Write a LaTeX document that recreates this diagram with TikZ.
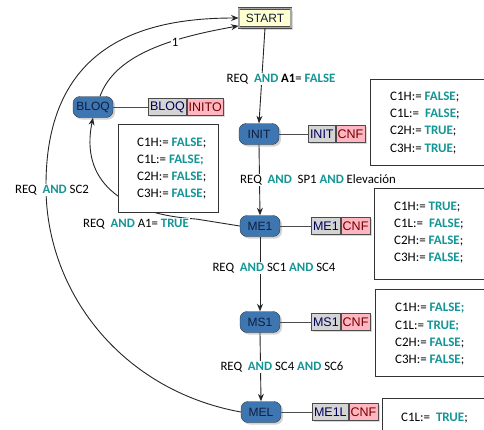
\documentclass[tikz,border=0pt]{standalone}
\usepackage{fontspec}
\setmainfont{Carlito}
\newfontfamily\arialf{Liberation Sans}
\usetikzlibrary{arrows.meta,shadows}
\definecolor{tealk}{RGB}{20,150,150}
\definecolor{nodeblue}{RGB}{62,118,178}
\definecolor{navyt}{RGB}{15,30,60}
\definecolor{cnfpink}{RGB}{255,182,193}
\definecolor{tgray}{RGB}{212,212,212}
\definecolor{startfill}{RGB}{255,255,208}
\newcommand\kw[1]{\textcolor{tealk}{\textbf{#1}}}
\begin{document}
\begin{tikzpicture}[x=1pt,y=-1pt,
 state/.style={draw=black!80, fill=nodeblue, rounded corners=7pt, minimum width=40pt, minimum height=21pt, inner sep=1pt, font=\arialf\fontsize{12}{13}\selectfont, text=navyt, drop shadow={opacity=0.35,shadow xshift=2pt,shadow yshift=-2pt}},
 tagg/.style={draw=black!70, fill=tgray, minimum height=17pt, inner sep=1.8pt, font=\arialf\fontsize{12.5}{13}\selectfont, text=black!65!blue, drop shadow={opacity=0.3,shadow xshift=1.5pt,shadow yshift=-1.5pt}},
 tagp/.style={tagg, fill=cnfpink, text=black!55!red},
 lbl/.style={font=\fontsize{12.8}{14}\selectfont, fill=white, inner sep=1pt},
 ln/.style={anchor=west, inner sep=0pt, font=\fontsize{13}{15}\selectfont},
 boxst/.style={draw=black!80, fill=white, line width=0.8pt},
 edge/.style={draw=black!85, line width=0.9pt},
 arr/.style={edge, -{Stealth[length=7.5pt,width=6pt]}},
 tie/.style={draw=black!70, line width=0.8pt}
]
\useasboundingbox (0,0) rectangle (484,429);
\clip (0,0) rectangle (484,429);

% start
\node[draw=black!70, line width=0.8pt, double=black!35, double distance=1.2pt, fill=startfill, minimum width=52pt, minimum height=19pt, inner sep=1pt, font=\arialf\fontsize{12}{13}\selectfont, text=navyt, drop shadow={opacity=0.3,shadow xshift=2pt,shadow yshift=-2pt}] (start) at (265,18) {START};

% states
\node[state] (bloq) at (93,107) {BLOQ};
\node[state] (init) at (259,134) {INIT};
\node[state] (me1) at (260,226) {ME1};
\node[state] (ms1) at (260,322) {MS1};
\node[state] (mel) at (261,412) {MEL};

% tags
\node[tagg, anchor=west] (bloqa) at (148,107) {BLOQ};
\node[tagp, anchor=west] (bloqb) at (bloqa.east) {INITO};
\node[tagg, anchor=west] (inita) at (308,134) {INIT};
\node[tagp, anchor=west] (initb) at (inita.east) {CNF};
\node[tagg, anchor=west] (me1a) at (311,226) {ME1};
\node[tagp, anchor=west] (me1b) at (me1a.east) {CNF};
\node[tagg, anchor=west] (ms1a) at (311,322) {MS1};
\node[tagp, anchor=west] (ms1b) at (ms1a.east) {CNF};
\node[tagg, anchor=west] (mela) at (312,412) {ME1L};
\node[tagp, anchor=west] (melb) at (mela.east) {CNF};

\draw[tie] (bloq.east) -- (bloqa.west);
\draw[tie] (init.east) -- (inita.west);
\draw[tie] (me1.east) -- (me1a.west);
\draw[tie] (ms1.east) -- (ms1a.west);
\draw[tie] (mel.east) -- (mela.west);

% edges
\draw[arr] (start.south) -- (init.north);
\draw[arr] (init.south) -- (me1.north);
\draw[arr] (me1.south) -- (ms1.north);
\draw[arr] (ms1.south) -- (mel.north);
\draw[arr] (me1.west) -- (196,219) .. controls (120,214) and (80,180) .. (bloq.south);
\draw[arr] ([xshift=7pt]bloq.north) .. controls (115,55) and (170,38) .. ([yshift=2pt]start.south west);
\draw[arr] (mel.west) .. controls (120,390) and (45,290) .. (46,185) .. controls (46,40) and (150,18) .. (start.west);

% edge labels
\node[lbl] (l1) at (281,79) {REQ\ \ \kw{AND} \textbf{A1}= \kw{FALSE}};
\node[lbl] (l2) at (318,180) {REQ\ \ \kw{AND}\ \ SP1 \kw{AND} Elevación};
\node[lbl] (l3) at (136,224) {REQ\ \ \kw{AND} A1= \kw{TRUE}};
\node[lbl] (l4) at (274,268) {REQ\ \ \kw{AND} SC1 \kw{AND} SC4};
\node[lbl] (l5) at (282,367) {REQ\ \ \kw{AND} SC4 \kw{AND} SC6};
\node[lbl] (l6) at (52,190) {REQ\ \ \kw{AND} SC2};
\node[lbl, inner sep=0.5pt] (l7) at (175,42) {1};

% value boxes
\draw[boxst] (118,124) rectangle (218,212);
\node[ln] (b1) at (137,143) {C1H:= \kw{FALSE};};
\node[ln] (b2) at (137,160) {C1L:= \kw{FALSE;}};
\node[ln] (b3) at (137,177) {C2H:= \kw{FALSE};};
\node[ln] (b4) at (137,194) {C3H:= \kw{FALSE};};

\draw[boxst] (370,79) rectangle (490,165);
\node[ln] (i1) at (390,97) {C1H:= \kw{FALSE};};
\node[ln] (i2) at (390,114) {C1L:=\ \ \kw{FALSE};};
\node[ln] (i3) at (390,131) {C2H:= \kw{TRUE};};
\node[ln] (i4) at (390,149) {C3H:= \kw{TRUE};};

\draw[boxst] (374,188) rectangle (490,279);
\node[ln] (m1) at (394,207) {C1H:= \kw{TRUE};};
\node[ln] (m2) at (394,224) {C1L:=\ \ \kw{FALSE};};
\node[ln] (m3) at (394,241) {C2H:= \kw{FALSE};};
\node[ln] (m4) at (394,258) {C3H:= \kw{FALSE};};

\draw[boxst] (375,289) rectangle (490,376);
\node[ln] (s1) at (395,308) {C1H:= \kw{FALSE;}};
\node[ln] (s2) at (395,326) {C1L:= \kw{TRUE;}};
\node[ln] (s3) at (395,343) {C2H:= \kw{FALSE};};
\node[ln] (s4) at (395,360) {C3H:= \kw{FALSE};};

\draw[boxst] (382,398) rectangle (490,445);
\node[ln] (e1) at (401,418) {C1L:=\ \ \kw{TRUE};};
\end{tikzpicture}
\end{document}
